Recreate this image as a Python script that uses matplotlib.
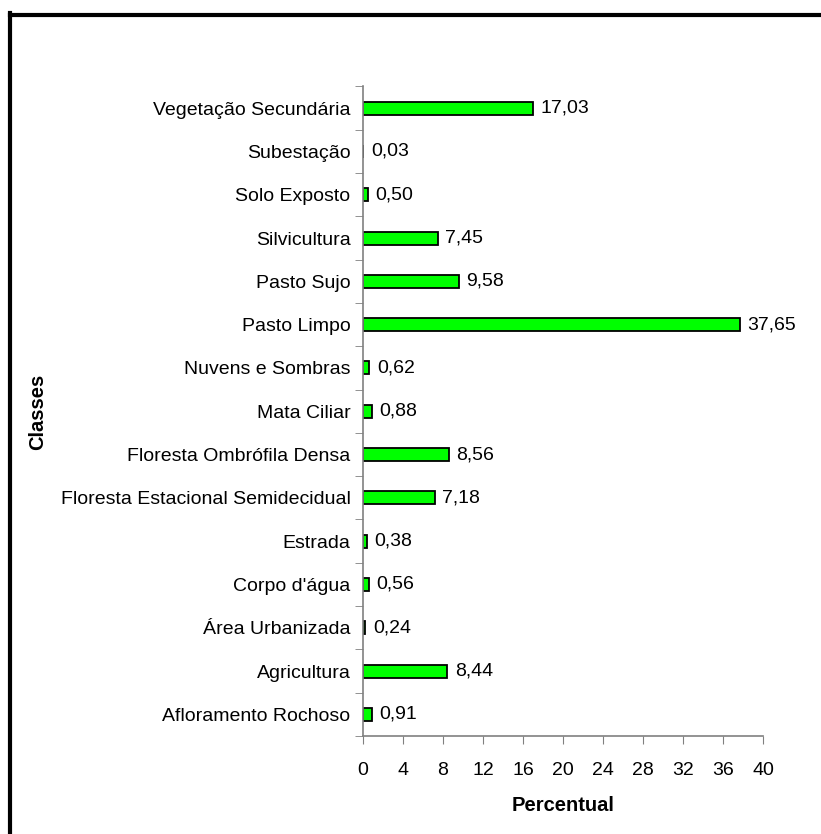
import numpy as np
import matplotlib
matplotlib.use("Agg")
import matplotlib.pyplot as plt
from matplotlib.lines import Line2D

plt.rcParams['font.family'] = ['Liberation Sans', 'DejaVu Sans']

classes = ["Afloramento Rochoso", "Agricultura", "Área Urbanizada", "Corpo d'água",
           "Estrada", "Floresta Estacional Semidecidual", "Floresta Ombrófila Densa",
           "Mata Ciliar", "Nuvens e Sombras", "Pasto Limpo", "Pasto Sujo",
           "Silvicultura", "Solo Exposto", "Subestação", "Vegetação Secundária"]
percent = [0.91, 8.44, 0.24, 0.56, 0.38, 7.18, 8.56, 0.88, 0.62, 37.65, 9.58,
           7.45, 0.50, 0.03, 17.03]
xticks = [0, 4, 8, 12, 16, 20, 24, 28, 32, 36, 40]

W, H = 821, 834
fig = plt.figure(figsize=(W / 100, H / 100), dpi=100)
ax = fig.add_axes([363 / W, 1 - 736 / H, 400 / W, (736 - 86.5) / H])

fs = 14
y = np.arange(len(classes))
ax.barh(y, percent, height=0.3, color='#00ff00', edgecolor='black', linewidth=1.3)
for yi, v in zip(y, percent):
    ax.annotate(f"{v:.2f}".replace('.', ','), (v, yi), xytext=(5.5, 0),
                textcoords='offset points', va='center', ha='left', fontsize=fs)

ax.set_xlim(0, 40)
ax.set_ylim(-0.5, len(classes) - 0.5)
ax.set_xticks(xticks)
ax.set_xticklabels([str(t) for t in xticks], fontsize=fs)
ax.set_yticks(y)
ax.set_yticklabels(classes, fontsize=fs)
ax.tick_params(axis='y', length=0, pad=9)
ax.set_yticks(np.arange(-0.5, len(classes)), minor=True)
ax.tick_params(axis='y', which='minor', length=6, color='#808080')
ax.tick_params(axis='x', length=6, color='#808080', pad=13)

for s in ['top', 'right']:
    ax.spines[s].set_visible(False)
for s in ['left', 'bottom']:
    ax.spines[s].set_color('#808080')
    ax.spines[s].set_linewidth(1.2)

ax.set_xlabel("Percentual", fontsize=14.5, fontweight='bold', labelpad=12)
fig.text(38 / W, 1 - 412 / H, "Classes", rotation=90, fontsize=14.5,
         fontweight='bold', ha='center', va='center')

# frame lines along the top and left edges
fig.add_artist(Line2D([9.5 / W, 1.0], [1 - 14.5 / H, 1 - 14.5 / H], color='black',
                      linewidth=3, transform=fig.transFigure))
fig.add_artist(Line2D([9.5 / W, 9.5 / W], [0.0, 1 - 13 / H], color='black',
                      linewidth=3, transform=fig.transFigure))

fig.savefig("out.png", dpi=100)
